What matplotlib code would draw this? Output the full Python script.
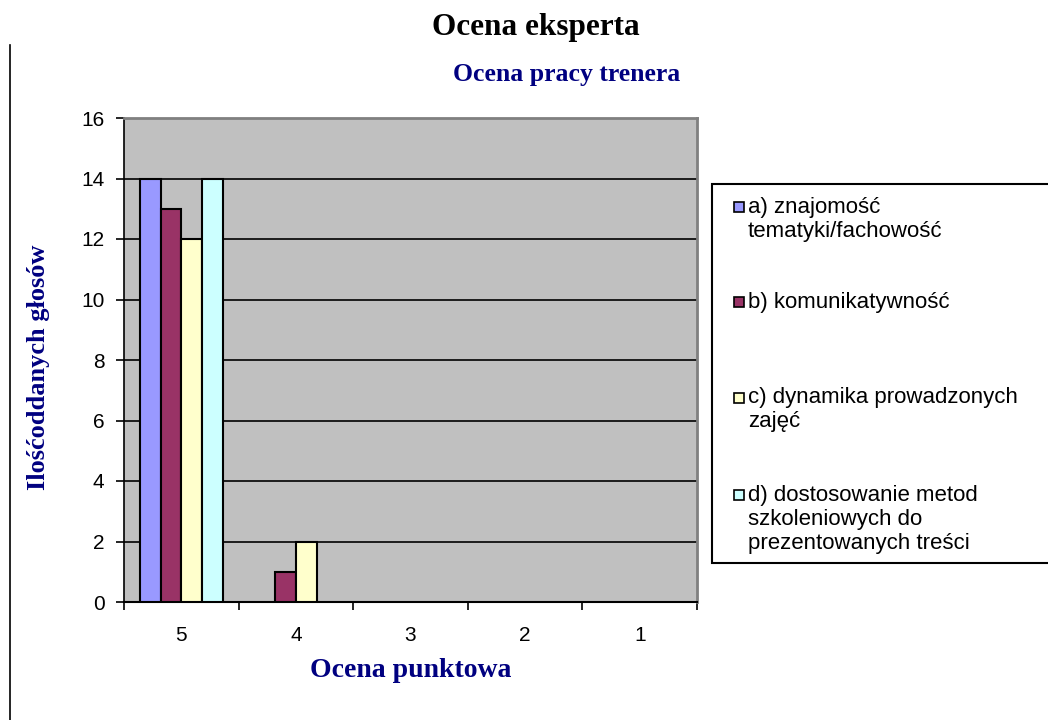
import numpy as np
import matplotlib.pyplot as plt
from matplotlib.patches import Rectangle
from matplotlib.lines import Line2D

# ocena punktowa, ilosc glosow per kryterium
categories = ['5', '4', '3', '2', '1']
series_names = ['a) znajomość\ntematyki/fachowość',
                'b) komunikatywność',
                'c) dynamika prowadzonych\nzajęć',
                'd) dostosowanie metod\nszkoleniowych do\nprezentowanych treści']
a_vals = [14, 0, 0, 0, 0]
b_vals = [13, 1, 0, 0, 0]
c_vals = [12, 2, 0, 0, 0]
d_vals = [14, 0, 0, 0, 0]
colors = ['#9999ff', '#993366', '#ffffcc', '#ccffff']

sans = ['Liberation Sans', 'DejaVu Sans']
serif = ['Liberation Serif', 'DejaVu Serif']
navy = '#000080'

fig = plt.figure(figsize=(10.48, 7.2), dpi=100)
ax = fig.add_axes([124/1048, 1-602/720, (697-124)/1048, (602-118)/720])
ax.set_facecolor('#c0c0c0')

x = np.arange(len(categories))
w = 0.18
for i, vals in enumerate([a_vals, b_vals, c_vals, d_vals]):
    vals = np.array(vals)
    lw = np.where(vals > 0, 1.5, 0)
    ax.bar(x + (i - 1.5)*w, vals, w, color=colors[i], edgecolor='black',
           linewidth=lw, zorder=3)

ax.set_xlim(-0.5, len(categories)-0.5)
ax.set_ylim(0, 16)
ax.set_yticks(range(0, 17, 2))
ax.yaxis.grid(True, color='black', linewidth=1.2, zorder=1)
ax.set_axisbelow(True)

ax.set_xticks(x)
ax.set_xticklabels(categories, fontfamily=sans, fontsize=15)
ax.set_xticks(np.arange(len(categories)+1) - 0.5, minor=True)
ax.tick_params(axis='x', which='major', length=0, pad=17)
ax.tick_params(axis='x', which='minor', length=6, width=1.2, direction='out')
ax.tick_params(axis='y', length=6, width=1.2, pad=8)
for lab in ax.get_yticklabels():
    lab.set_fontfamily(sans)
    lab.set_fontsize(15)

ax.spines['left'].set_color('black')
ax.spines['bottom'].set_color('black')
ax.spines['left'].set_linewidth(1.2)
ax.spines['bottom'].set_linewidth(1.5)
for s in ['top', 'right']:
    ax.spines[s].set_color('#808080')
    ax.spines[s].set_linewidth(2)

ax.set_ylabel('Ilośćoddanych głosów', fontfamily=serif, fontweight='bold',
              fontsize=19, color=navy, va='center')
ax.yaxis.set_label_coords(-0.149, 0.485)
ax.set_xlabel('Ocena punktowa', fontfamily=serif, fontweight='bold',
              fontsize=20, color=navy, va='center')
ax.xaxis.set_label_coords(0.5, -0.142)

fig.text(536/1048, 1-28/720, 'Ocena eksperta', fontfamily=serif,
         fontweight='bold', fontsize=22.5, ha='center', va='center')
fig.text(567/1048, 1-75/720, 'Ocena pracy trenera', fontfamily=serif,
         fontweight='bold', fontsize=18.5, color=navy, ha='center', va='center')

# lewa krawedz strony
fig.add_artist(Line2D([10/1048, 10/1048], [0, 1-45/720], color='black', lw=1.2))

# legenda
fig.add_artist(Rectangle((712/1048, 1-563/720), 400/1048, (563-184)/720,
                         transform=fig.transFigure, facecolor='white',
                         edgecolor='black', linewidth=1.5))
first_line = [207, 302, 398, 495]
for i, name in enumerate(series_names):
    y0 = first_line[i]
    fig.add_artist(Rectangle((734/1048, 1-(y0+5)/720), 10/1048, 10/720,
                             transform=fig.transFigure, facecolor=colors[i],
                             edgecolor='black', linewidth=1.2))
    for k, line in enumerate(name.split('\n')):
        fig.text(748/1048, 1-(y0 + 24*k)/720, line, fontfamily=sans,
                 fontsize=16, ha='left', va='center')

fig.savefig('out.png', dpi=100)
